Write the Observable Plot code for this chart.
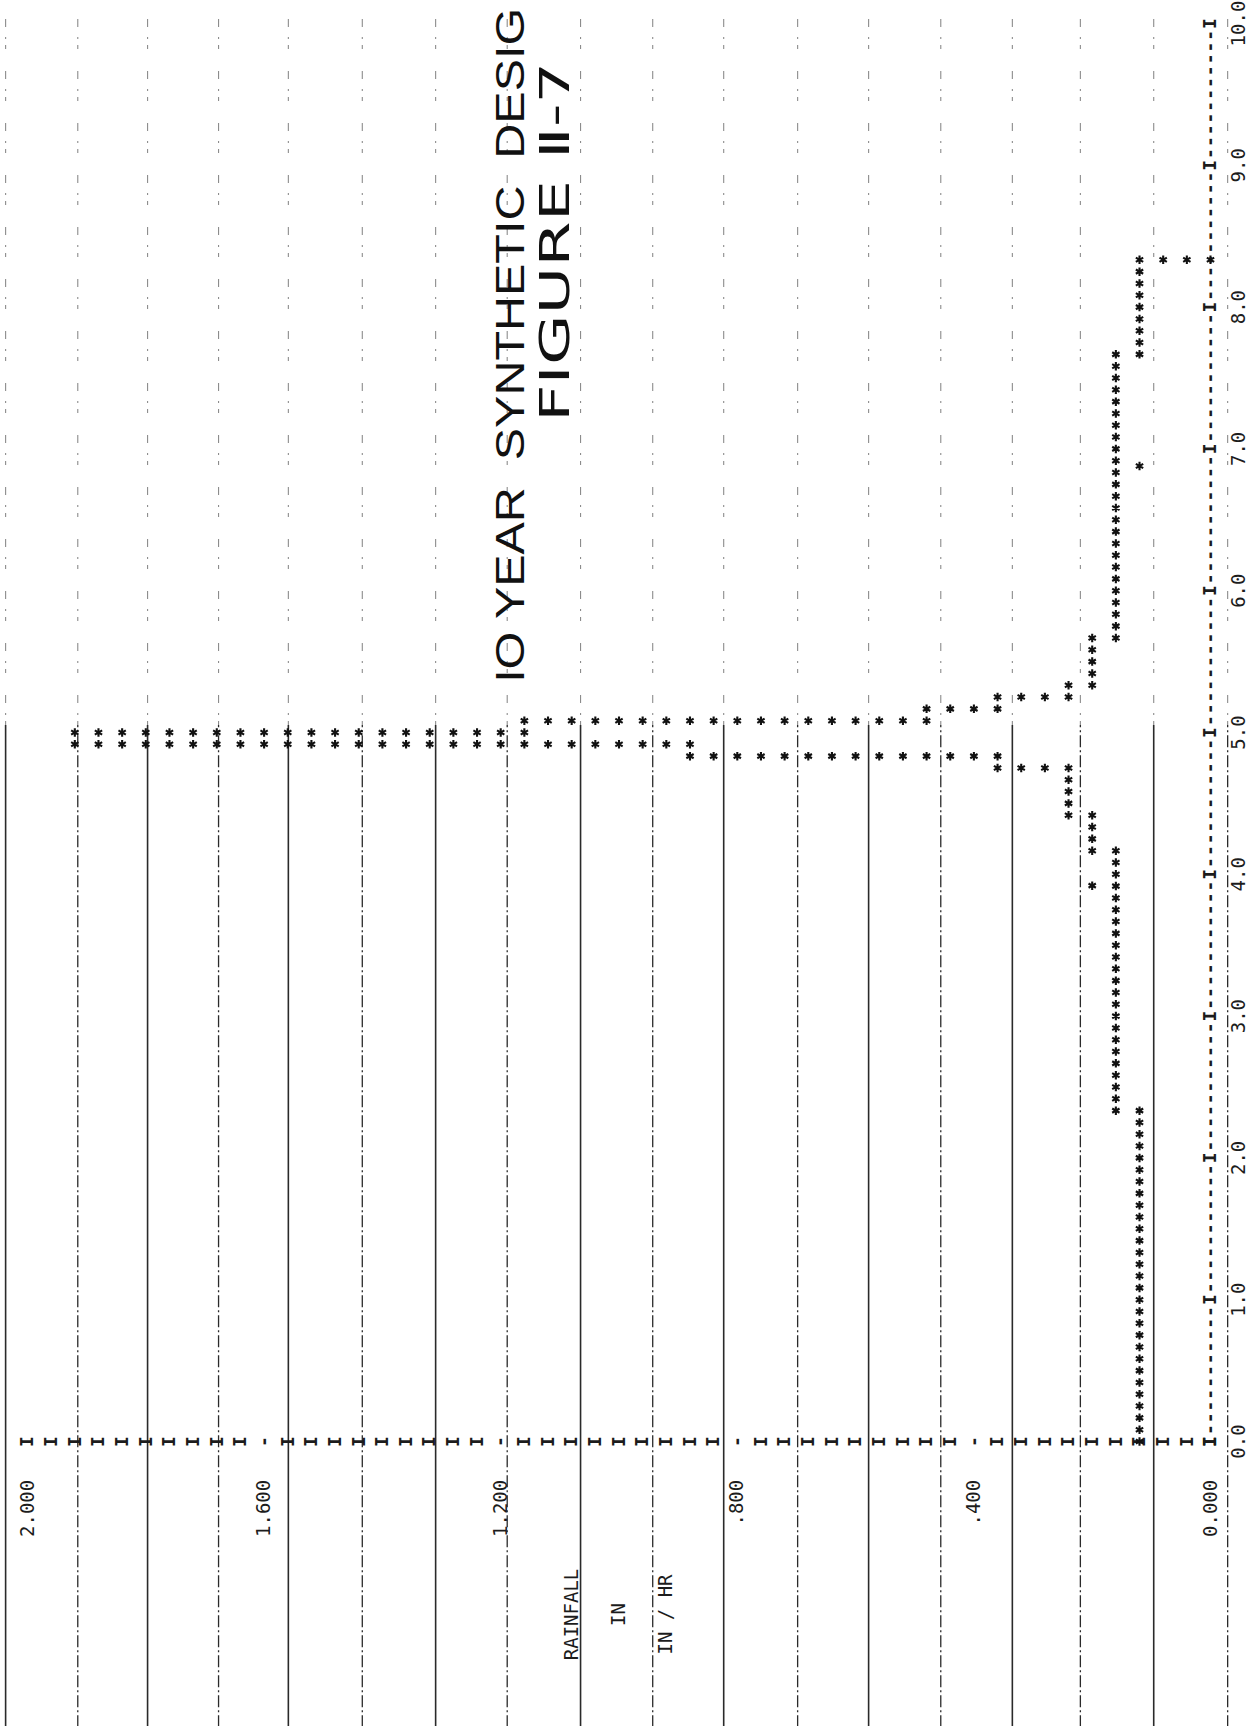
<!DOCTYPE html>
<html>
<head>
<meta charset="utf-8">
<script src="https://cdn.jsdelivr.net/npm/d3@7"></script>
<script src="https://cdn.jsdelivr.net/npm/@observablehq/plot@0.6"></script>
<style>
  html, body { margin: 0; padding: 0; background: #fff; overflow: hidden; }
  #chart { width: 1250px; height: 1726px; }
  #chart svg { display: block; }
</style>
</head>
<body>
<div id="chart"></div>
<script>
// ---------------- DATA ----------------
const stepMinutes = 5;                 // one printed point every 5 minutes, from 0.0 h
const intensity = [                    // rainfall intensity, in/hr
  0.12,0.12,0.12,0.12,0.12,0.12,0.12,0.12,0.12,0.12,0.12,0.12,0.12,0.12,
  0.12,0.12,0.12,0.12,0.12,0.12,0.12,0.12,0.12,0.12,0.12,0.12,0.12,0.12,
  0.16,0.16,0.16,0.16,0.16,0.16,0.16,0.16,0.16,0.16,0.16,
  0.16,0.16,0.16,0.16,0.16,0.16,0.16,0.16,0.16,0.16,0.16,
  0.20,0.20,0.20,
  0.24,0.24,0.24,0.24,
  0.36,0.88,1.92,1.16,0.48,0.36,0.24,
  0.20,0.20,0.20,0.20,
  0.16,0.16,0.16,0.16,0.16,0.16,0.16,0.16,0.16,0.16,0.16,0.16,
  0.16,0.16,0.16,0.16,0.16,0.16,0.16,0.16,0.16,0.16,0.16,0.16,
  0.12,0.12,0.12,0.12,0.12,0.12,0.12,0.12,
  0.00
];
const strayTimes = [3.92, 6.88];       // isolated asterisks on the sheet (hours)
const strayIntensity = [0.20, 0.12];   // in/hr
const printLine = 0.04;                // in/hr per printer line
const hourTicks = [0,1,2,3,4,5,6,7,8,9,10];
const hourLabels = ["0.0","1.0","2.0","3.0","4.0","5.0","6.0","7.0","8.0","9.0","10.0"];
const rainTicks = [2.0, 1.6, 1.2, 0.8, 0.4, 0.0];
const rainLabels = ["2.000","1.600","1.200",".800",".400","0.000"];
const axisTitle = ["RAINFALL", "IN", "IN / HR"];
const axisTitleAt = [1.08, 1.00, 0.92];
const title1 = "IO YEAR  SYNTHETIC  DESIG";
const title2 = "FIGURE \u2161-7";
// ruled lines of the paper, located on the intensity scale (in/hr)
const paperSolid   = [2.037, 1.797, 1.559, 1.310, 1.065, 0.823, 0.578, 0.335, 0.096];
const paperDashDot = [1.915, 1.677, 1.434, 1.189, 0.943, 0.698, 0.456, 0.220, -0.029];

// ---------------- derived tables ----------------
const toHours = i => i * stepMinutes / 60;
// line-printer rendering: each 5-min column fills the lines between previous and current value
const stars = [];
intensity.forEach((v, i) => {
  const L = Math.round(v / printLine);
  const Lp = i === 0 ? L : Math.round(intensity[i - 1] / printLine);
  for (let l = Math.min(L, Lp); l <= Math.max(L, Lp); l++) stars.push({t: toHours(i), v: l * printLine});
});
strayTimes.forEach((t, i) => stars.push({t, v: strayIntensity[i]}));

const timeAxis = d3.range(0, 121).map(i => ({t: toHours(i), ch: i % 12 === 0 ? "I" : "-"}));
const rainAxis = d3.range(0, 51).map(l => ({v: l * printLine, ch: (l % 10 === 0 && l > 0 && l < 50) ? "-" : "I"}));
const hourTable = hourTicks.map((h, i) => ({t: h, s: hourLabels[i]}));
const rainTable = rainTicks.map((r, i) => ({v: r, s: rainLabels[i]}));
const titleTable = axisTitle.map((s, i) => ({v: axisTitleAt[i], s}));

const mono = "DejaVu Sans Mono, Liberation Mono, monospace";
const ink = "#1c1c1c";

const plot = Plot.plot({
  width: 1250,
  height: 1726,
  marginTop: 0, marginRight: 0, marginBottom: 0, marginLeft: 0,
  x: {domain: [0, 2], range: [1210, 27], axis: null},
  y: {domain: [0, 10], range: [1441, 23], axis: null},
  style: {background: "#ffffff"},
  marks: [
    // paper rulings (faded above, clear below)
    Plot.ruleX([...paperSolid, ...paperDashDot], {y1: 5.05, y2: 10.4, stroke: "#8c8c8c", strokeWidth: 1.1, strokeDasharray: "4,6,2,10,8,22"}),
    Plot.ruleX(paperSolid, {y1: -2.3, y2: 5.05, stroke: "#2a2a2a", strokeWidth: 1.6}),
    Plot.ruleX(paperDashDot, {y1: -2.3, y2: 5.05, stroke: "#2a2a2a", strokeWidth: 1.3, strokeDasharray: "12,3,2,3"}),
    // time axis (printed characters)
    Plot.text(timeAxis, {x: () => 0, y: "t", text: "ch", rotate: -90, fontFamily: mono, fontSize: 18, fontWeight: "bold", fill: ink}),
    // intensity axis (printed characters)
    Plot.text(rainAxis, {x: "v", y: () => 0, text: "ch", rotate: -90, fontFamily: mono, fontSize: 18, fontWeight: "bold", fill: ink}),
    // tick labels
    Plot.text(hourTable, {x: () => -0.048, y: "t", text: "s", rotate: -90, fontFamily: mono, fontSize: 19, fill: ink}),
    Plot.text(rainTable, {x: "v", y: () => -0.27, text: "s", rotate: -90, textAnchor: "end", fontFamily: mono, fontSize: 19, fill: ink}),
    Plot.text(titleTable, {x: "v", y: () => -1.22, text: "s", rotate: -90, fontFamily: mono, fontSize: 19, fill: ink}),
    // the hyetograph
    Plot.dot(stars, {x: "v", y: "t", symbol: "asterisk", r: 4.0, stroke: "#111", strokeWidth: 2.1}),
    // hand-lettered titles
    Plot.text([title1], {x: () => 1.183, y: () => 5.35, text: d => d, rotate: -90, textAnchor: "start", fontFamily: "Liberation Sans, Arial, sans-serif", fontSize: 40, fill: "#111"}),
    Plot.text([title2], {x: () => 1.107, y: () => 7.19, text: d => d, rotate: -90, textAnchor: "start", fontFamily: "DejaVu Sans, Liberation Sans, sans-serif", fontSize: 40, fill: "#111"})
  ]
});

document.getElementById("chart").appendChild(plot);
d3.select(plot).selectAll("text")
  .filter(function() { return this.textContent === title1; })
  .attr("textLength", 675).attr("lengthAdjust", "spacingAndGlyphs");
d3.select(plot).selectAll("text")
  .filter(function() { return this.textContent === title2; })
  .attr("textLength", 360).attr("lengthAdjust", "spacingAndGlyphs");
</script>
</body>
</html>
